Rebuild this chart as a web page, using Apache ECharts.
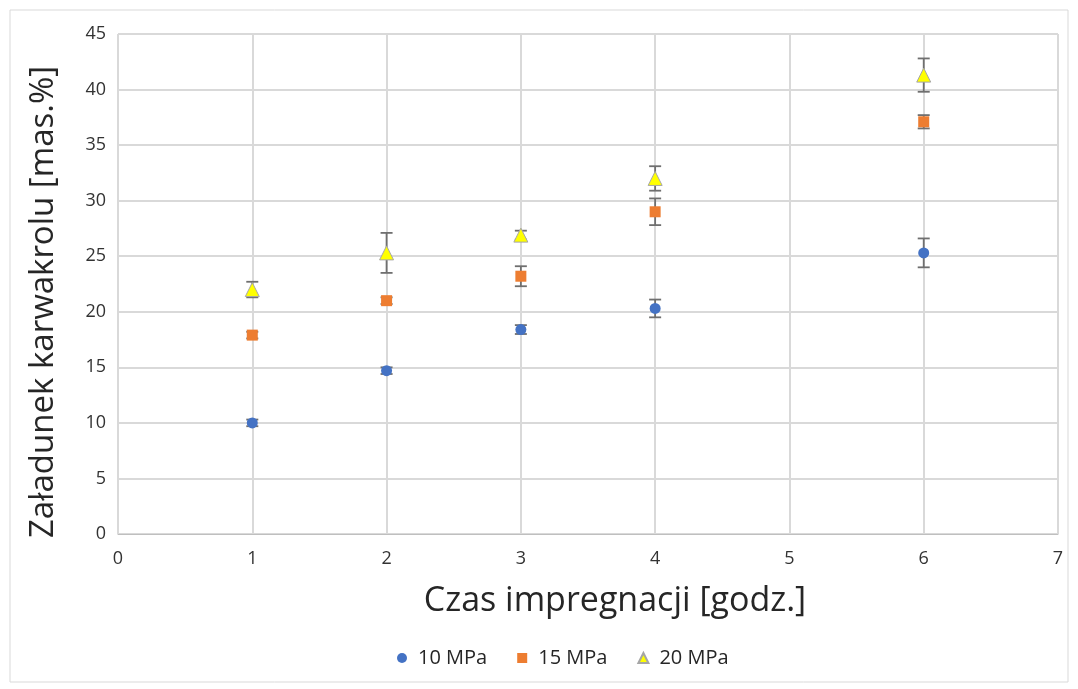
<!DOCTYPE html>
<html><head><meta charset="utf-8">
<script src="https://cdn.jsdelivr.net/npm/echarts@6/dist/echarts.min.js"></script>
<style>html,body{margin:0;padding:0;background:#fff}#c{width:1078px;height:689px}</style>
</head><body><div id="c"></div>
<script>
const hours = [1, 2, 3, 4, 6];
const s10 = [10.0, 14.7, 18.4, 20.3, 25.3];
const e10 = [0.3, 0.3, 0.4, 0.8, 1.3];
const s15 = [17.9, 21.0, 23.2, 29.0, 37.1];
const e15 = [0.3, 0.3, 0.9, 1.2, 0.6];
const s20 = [22.0, 25.3, 26.9, 32.0, 41.3];
const e20 = [0.7, 1.8, 0.4, 1.1, 1.5];
const names = ['10 MPa', '15 MPa', '20 MPa'];
const colors = ['#4472c4', '#ed7d31', '#ffff00'];

const chart = echarts.init(document.getElementById('c'));
function pts(v){ return hours.map((h,i)=>[h, v[i]]); }
function errData(v,e){ return hours.map((h,i)=>[h, v[i]-e[i], v[i]+e[i]]); }
function errSeries(v,e){
  return {
    type:'custom', z:1, silent:true, legendHoverLink:false,
    data: errData(v,e),
    encode:{x:0, y:[1,2]},
    renderItem:function(params, api){
      const lo = api.coord([api.value(0), api.value(1)]);
      const hi = api.coord([api.value(0), api.value(2)]);
      const w = 6;
      const st = {stroke:'#6f6f6f', lineWidth:1.8};
      return {type:'group', children:[
        {type:'line', shape:{x1:lo[0],y1:lo[1],x2:hi[0],y2:hi[1]}, style:st},
        {type:'line', shape:{x1:lo[0]-w,y1:lo[1],x2:lo[0]+w,y2:lo[1]}, style:st},
        {type:'line', shape:{x1:hi[0]-w,y1:hi[1],x2:hi[0]+w,y2:hi[1]}, style:st}
      ]};
    }
  };
}
const font = '"Open Sans", "Noto Sans", sans-serif';
const tickFont = '"Open Sans", "Noto Sans", sans-serif';
chart.setOption({
  animation:false,
  graphic:[{type:'rect', shape:{x:10,y:10,width:1058,height:672}, style:{fill:'none', stroke:'#d9d9d9', lineWidth:1}, silent:true}],
  grid:{left:118, right:20, top:34, bottom:155},
  legend:{
    bottom:16, left:392, itemGap:30, itemWidth:10, itemHeight:10,
    textStyle:{fontFamily:font, fontSize:20, color:'#262626', padding:[0,0,0,6]},
    data:[{name:names[0], icon:'circle'},{name:names[1], icon:'rect'},{name:names[2], icon:'triangle'}]
  },
  xAxis:{
    type:'value', min:0, max:7, interval:1,
    name:'Czas impregnacji [godz.]', nameLocation:'middle', nameGap:50,
    nameTextStyle:{fontFamily:font, fontSize:34, color:'#262626', padding:[0,0,0,54]},
    axisLine:{show:true, lineStyle:{color:'#bfbfbf'}}, axisTick:{show:false},
    axisLabel:{fontFamily:tickFont, fontSize:18, color:'#333333', margin:16},
    splitLine:{show:true, lineStyle:{color:'#d9d9d9', width:2}}
  },
  yAxis:{
    type:'value', min:0, max:45, interval:5,
    name:'Załadunek karwakrolu [mas.%]', nameLocation:'middle', nameGap:58,
    nameTextStyle:{fontFamily:font, fontSize:33, color:'#262626', padding:[0,36,0,0]},
    axisLine:{show:true, lineStyle:{color:'#d9d9d9'}}, axisTick:{show:false},
    axisLabel:{fontFamily:tickFont, fontSize:18, color:'#333333', margin:12},
    splitLine:{show:true, lineStyle:{color:'#d9d9d9', width:2}}
  },
  series:[
    errSeries(s10,e10), errSeries(s15,e15), errSeries(s20,e20),
    {name:names[0], type:'scatter', z:3, data:pts(s10), symbol:'circle', symbolSize:11, itemStyle:{color:colors[0], opacity:1}},
    {name:names[1], type:'scatter', z:3, data:pts(s15), symbol:'rect', symbolSize:11, itemStyle:{color:colors[1], opacity:1}},
    {name:names[2], type:'scatter', z:3, data:pts(s20), symbol:'triangle', symbolSize:14, itemStyle:{color:colors[2], borderColor:'#a6a6a6', borderWidth:1, opacity:1}}
  ]
});
</script></body></html>
